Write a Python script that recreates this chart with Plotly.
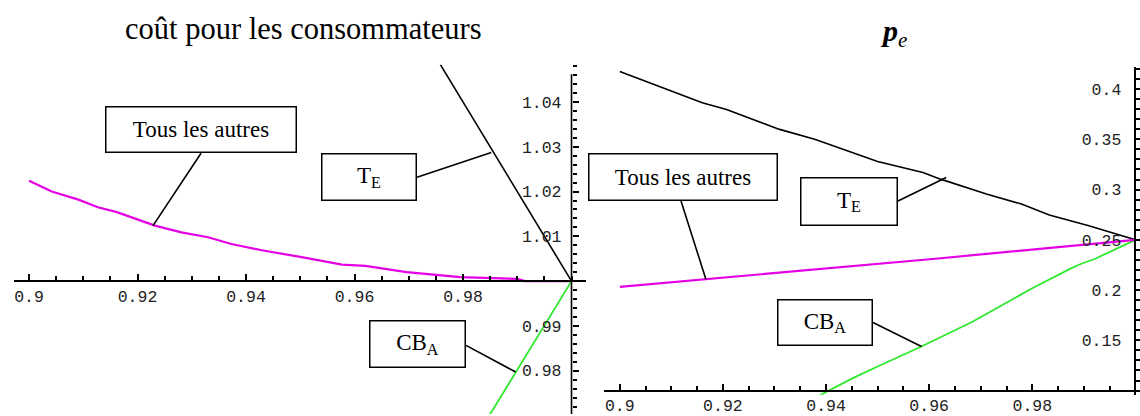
import plotly.graph_objects as go

W, H = 1140, 416

# ---------------- data: left panel, "coût pour les consommateurs" ----------------
cost_others_x = [0.9, 0.9042, 0.9091, 0.9127, 0.9162, 0.9197, 0.9232, 0.9281, 0.9330,
                 0.9373, 0.9429, 0.9500, 0.9577, 0.9620, 0.9696, 0.9795, 0.9900, 0.9914, 1.0]
cost_others_y = [1.0224, 1.0200, 1.0182, 1.0165, 1.0154, 1.0139, 1.0124, 1.0109, 1.0098,
                 1.0083, 1.0069, 1.0054, 1.0037, 1.0034, 1.0020, 1.0009, 1.0005, 1.0000, 1.0]
cost_te_x = [0.9758, 1.0]
cost_te_y = [1.0484, 1.0]
cost_cba_x = [0.9849, 1.0]
cost_cba_y = [0.9701, 1.0]

# ---------------- data: right panel, p_e ----------------
pe_others_x = [0.9, 0.9612, 1.0]
pe_others_y = [0.2032, 0.2312, 0.25]
pe_te_x = [0.9, 0.9085, 0.9160, 0.9207, 0.9310, 0.9378, 0.9452, 0.9500, 0.9588,
           0.9622, 0.9711, 0.9779, 0.9833, 0.9908, 1.0]
pe_te_y = [0.4176, 0.4012, 0.3863, 0.3797, 0.3599, 0.3500, 0.3368, 0.3279, 0.3170,
           0.3104, 0.2955, 0.2856, 0.2748, 0.2642, 0.25]
pe_cba_x = [0.9385, 0.9452, 0.9500, 0.9585, 0.9684, 0.9752, 0.9799, 0.9874, 0.9895, 0.9922, 1.0]
pe_cba_y = [0.0945, 0.1124, 0.1240, 0.1438, 0.1685, 0.1883, 0.2015, 0.2213, 0.2262, 0.2312, 0.25]

# tick labels
left_xticks = [0.9, 0.92, 0.94, 0.96, 0.98]
left_yticks = [0.98, 0.99, 1.01, 1.02, 1.03, 1.04]
right_xticks = [0.9, 0.92, 0.94, 0.96, 0.98]
right_yticks = [0.15, 0.2, 0.25, 0.3, 0.35, 0.4]

# ---------------- geometry (pixels) ----------------
LEFT = dict(xpx=(14, 586), xr=(0.89723, 1.00267), ypx=(65, 416), yr=(0.97033, 1.04833),
            xcross=1.0, ycross=1.0)
RIGHT = dict(xpx=(604, 1140), xr=(0.89694, 1.00089), ypx=(67, 396.7), yr=(0.0958, 0.4223),
             xcross=1.0, ycross=0.1)

MAGENTA = "#e400e4"
GREEN = "#2ee82e"
TICKFONT = dict(family="Liberation Mono, Courier New, monospace", size=16.5, color="#222")
SERIF = "Liberation Serif, Times New Roman, serif"


def px_to_paper(x, y):
    return x / W, 1 - y / H


def data_to_px(p, x, y):
    (x0, x1), (a0, a1) = p["xpx"], p["xr"]
    (yt, yb), (b0, b1) = p["ypx"], p["yr"]
    px = x0 + (x - a0) / (a1 - a0) * (x1 - x0)
    py = yb - (y - b0) / (b1 - b0) * (yb - yt)
    return px, py


def axes(p, xticks, yticks, xminor, yminor, show_yline):
    xdom = [p["xpx"][0] / W, p["xpx"][1] / W]
    ydom = [1 - p["ypx"][1] / H, 1 - p["ypx"][0] / H]
    cx, cy = data_to_px(p, p["xcross"], p["ycross"])
    common = dict(showgrid=False, zeroline=False, color="black", linecolor="black",
                  linewidth=1.6, ticks="inside", tickwidth=2, tickcolor="black",
                  tickfont=TICKFONT, anchor="free", fixedrange=True)
    xa = dict(common, domain=xdom, range=list(p["xr"]), position=1 - cy / H, side="bottom",
              showline=True, ticklen=6, tickmode="array", tickvals=xticks,
              ticktext=[f"{v:g}" for v in xticks],
              minor=dict(ticks="inside", ticklen=4, tickwidth=2, tickcolor="black",
                         tickmode="linear", tick0=0.9, dtick=xminor, showgrid=False))
    ya = dict(common, domain=ydom, range=list(p["yr"]), position=cx / W, side="left",
              showline=show_yline, ticklen=6, tickmode="array", tickvals=yticks,
              ticktext=[f"{v:g}" for v in yticks], ticklabelstandoff=10,
              minor=dict(ticks="inside", ticklen=4.5, tickwidth=1.8, tickcolor="black",
                         tickmode="linear", tick0=p["ycross"], dtick=yminor, showgrid=False))
    return xa, ya


fig = go.Figure()

# left panel curves
fig.add_trace(go.Scatter(x=cost_others_x, y=cost_others_y, mode="lines",
                         line=dict(color=MAGENTA, width=2.2), xaxis="x", yaxis="y"))
fig.add_trace(go.Scatter(x=cost_te_x, y=cost_te_y, mode="lines",
                         line=dict(color="black", width=1.6), xaxis="x", yaxis="y"))
fig.add_trace(go.Scatter(x=cost_cba_x, y=cost_cba_y, mode="lines",
                         line=dict(color=GREEN, width=1.8), xaxis="x", yaxis="y"))

# right panel curves
fig.add_trace(go.Scatter(x=pe_te_x, y=pe_te_y, mode="lines",
                         line=dict(color="black", width=1.6), xaxis="x2", yaxis="y2"))
fig.add_trace(go.Scatter(x=pe_cba_x, y=pe_cba_y, mode="lines",
                         line=dict(color=GREEN, width=1.8), xaxis="x2", yaxis="y2"))
fig.add_trace(go.Scatter(x=pe_others_x, y=pe_others_y, mode="lines",
                         line=dict(color=MAGENTA, width=2.2), xaxis="x2", yaxis="y2"))

xa1, ya1 = axes(LEFT, left_xticks, left_yticks, 0.005, 0.002, show_yline=False)
xa2, ya2 = axes(RIGHT, right_xticks, right_yticks, 0.005, 0.01, show_yline=True)

shapes = []
# vertical axis line of the left panel (stops short of the plot top)
lx, ltop = data_to_px(LEFT, 1.0, 1.0462)
_, lbot = data_to_px(LEFT, 1.0, LEFT["yr"][0])
x0p, y0p = px_to_paper(lx, ltop)
x1p, y1p = px_to_paper(lx, lbot)
shapes.append(dict(type="line", xref="paper", yref="paper", x0=x0p, y0=y0p, x1=x1p, y1=y1p,
                   line=dict(color="black", width=1.6)))

annotations = []

# titles
tx, ty = px_to_paper(303, 29)
annotations.append(dict(text="coût pour les consommateurs", x=tx, y=ty, xref="paper", yref="paper",
                        showarrow=False, xanchor="center", yanchor="middle",
                        font=dict(family=SERIF, size=30.5, color="black")))
tx, ty = px_to_paper(893, 33)
annotations.append(dict(text="<b><i>p</i></b><sub><i>e</i></sub>", x=tx, y=ty,
                        xref="paper", yref="paper", showarrow=False, xanchor="center",
                        yanchor="middle", font=dict(family=SERIF, size=30, color="black")))

# callout boxes: (label, box px [x0, x1, y0, y1], leader start px, panel, leader end in data)
callouts = [
    ("Tous les autres", (105, 297, 107, 154), (201, 154), LEFT, (0.92286, 1.0124)),
    ("T<sub>E</sub>", (321, 417, 154, 202), (417, 178), LEFT, (0.9852, 1.0287)),
    ("CB<sub>A</sub>", (369, 466, 322, 370), (466, 347), LEFT, (0.9897, 0.9797)),
    ("Tous les autres", (588, 778, 154, 202), (681, 202), RIGHT, (0.9167, 0.2108)),
    ("T<sub>E</sub>", (800, 898, 178, 227), (898, 202), RIGHT, (0.9633, 0.3121)),
    ("CB<sub>A</sub>", (777, 873, 301, 348), (873, 324), RIGHT, (0.9585, 0.1438)),
]
BW = 1.5
for text, (bx0, bx1, by0, by1), (sx, sy), panel, (dx, dy) in callouts:
    ex, ey = data_to_px(panel, dx, dy)
    a0, b0 = px_to_paper(sx, sy)
    a1, b1 = px_to_paper(ex, ey)
    shapes.append(dict(type="line", xref="paper", yref="paper", x0=a0, y0=b0, x1=a1, y1=b1,
                       line=dict(color="black", width=1.6)))
    cx, cy = px_to_paper((bx0 + bx1) / 2, (by0 + by1) / 2)
    annotations.append(dict(text=text, x=cx, y=cy, xref="paper", yref="paper", showarrow=False,
                            xanchor="center", yanchor="middle",
                            width=bx1 - bx0 - 2 * BW, height=by1 - by0 - 2 * BW,
                            borderpad=0, borderwidth=BW, bordercolor="black", bgcolor="white",
                            font=dict(family=SERIF, size=23, color="black")))

fig.update_layout(
    width=W, height=H, margin=dict(l=0, r=0, t=0, b=0),
    paper_bgcolor="white", plot_bgcolor="rgba(0,0,0,0)",
    showlegend=False,
    xaxis=xa1, yaxis=ya1, xaxis2=xa2, yaxis2=ya2,
    shapes=shapes, annotations=annotations,
)

fig.write_html("out.html")
